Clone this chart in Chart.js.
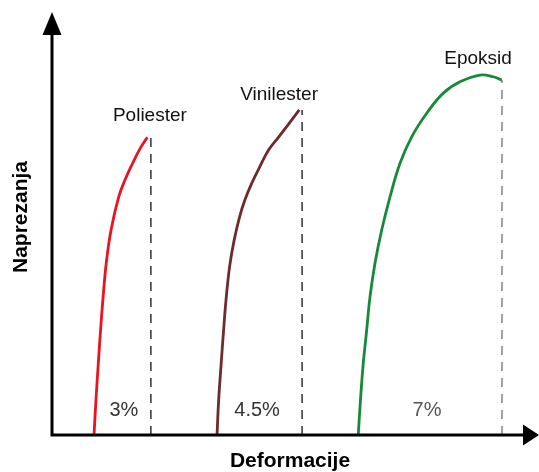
<!DOCTYPE html>
<html>
<head>
<meta charset="utf-8">
<script src="https://cdn.jsdelivr.net/npm/chart.js@4"></script>
<style>
html,body{margin:0;padding:0;background:#fff;}
#wrap{width:539px;height:472px;}
</style>
</head>
<body>
<div id="wrap"><canvas id="c" width="539" height="472"></canvas></div>
<script>
// Materials
const materials = ["Poliester", "Vinilester", "Epoksid"];
const strainLabels = ["3%", "4.5%", "7%"];
// Curves (deformation, stress) in arbitrary units
const poliesterX = [8.75, 9.2, 9.65, 10.12, 10.65, 11.3, 12.3, 13.9, 15.2, 16.8, 18.2, 19.85];
const poliesterY = [0, 9.1, 17.1, 25.0, 32.9, 40.9, 48.8, 56.7, 60.7, 64.7, 67.9, 70.9];
const vinilesterX = [34.38, 34.72, 35.2, 35.7, 36.25, 37.0, 37.95, 39.1, 40.2, 41.6, 43.3, 45.15, 47.25, 49.4, 51.52];
const vinilesterY = [0, 8.3, 16.3, 24.2, 32.1, 40.1, 46.4, 52.0, 56.0, 59.9, 63.9, 67.9, 71.0, 74.2, 77.4];
const epoksidX = [63.8, 64.31, 64.85, 65.56, 66.25, 67.29, 68.69, 70.42, 72.5, 74.94, 78.06, 81.52, 85.0, 89.17, 91.94, 93.69];
const epoksidY = [0, 9.1, 17.1, 25.0, 32.9, 40.9, 48.8, 56.7, 64.7, 71.0, 76.6, 81.4, 84.1, 85.7, 85.3, 84.5];
// Break (failure) deformation of each material, dashed line positions
const breakX = [20.6, 52.1, 93.75];
const breakY = [70.9, 77.4, 84.5];

const curveX = [poliesterX, vinilesterX, epoksidX];
const curveY = [poliesterY, vinilesterY, epoksidY];
const colors = ["#e8141f", "#6e2a2c", "#17893a"];
const dashColors = ["#222222", "#222222", "#777777"];

const pts = (xs, ys) => xs.map((x, i) => ({x, y: ys[i]}));

const datasets = [];
for (let i = 0; i < 3; i++) {
  datasets.push({
    label: materials[i],
    data: pts(curveX[i], curveY[i]),
    showLine: true,
    borderColor: colors[i],
    borderWidth: 2.8,
    pointRadius: 0,
    tension: 0.4,
    fill: false
  });
  datasets.push({
    label: materials[i] + " lom",
    data: [{x: breakX[i], y: 0}, {x: breakX[i], y: breakY[i]}],
    showLine: true,
    borderColor: dashColors[i],
    borderWidth: 1.4,
    borderDash: [9, 7],
    pointRadius: 0,
    fill: false
  });
}

// label placement (pixel offsets relative to break point)
const nameOffsets = [[-1, -16], [-23, -10], [-24, -16]];
const pctOffsets = [[-27, 0], [-45, 0], [-75, 0]];
const pctColors = ["#333333", "#333333", "#555555"];

const overlay = {
  id: "overlay",
  afterDatasetsDraw(chart) {
    const ctx = chart.ctx;
    const xs = chart.scales.x, ys = chart.scales.y;
    const x0 = xs.getPixelForValue(0), y0 = ys.getPixelForValue(0);
    ctx.save();
    // axes
    ctx.strokeStyle = "#000";
    ctx.lineWidth = 3;
    ctx.beginPath();
    ctx.moveTo(x0, y0 + 1.5);
    ctx.lineTo(x0, 30);
    ctx.moveTo(x0 - 1.5, y0);
    ctx.lineTo(527, y0);
    ctx.stroke();
    ctx.fillStyle = "#000";
    ctx.beginPath();
    ctx.moveTo(x0, 12);
    ctx.lineTo(x0 - 9.5, 35);
    ctx.lineTo(x0 + 9.5, 35);
    ctx.closePath();
    ctx.fill();
    ctx.beginPath();
    ctx.moveTo(539, y0);
    ctx.lineTo(523, y0 - 10.5);
    ctx.lineTo(523, y0 + 10.5);
    ctx.closePath();
    ctx.fill();
    // names and strain labels
    ctx.textAlign = "center";
    ctx.textBaseline = "alphabetic";
    for (let i = 0; i < 3; i++) {
      const bx = xs.getPixelForValue(breakX[i]);
      const by = ys.getPixelForValue(breakY[i]);
      ctx.fillStyle = "#111";
      ctx.font = "19px 'Liberation Sans', Arial, sans-serif";
      ctx.fillText(materials[i], bx + nameOffsets[i][0], by + nameOffsets[i][1]);
      ctx.fillStyle = pctColors[i];
      ctx.font = "20px 'Liberation Sans', Arial, sans-serif";
      ctx.fillText(strainLabels[i], bx + pctOffsets[i][0], y0 - 19);
    }
    // axis titles
    ctx.fillStyle = "#000";
    ctx.font = "bold 21px 'Liberation Sans', Arial, sans-serif";
    ctx.fillText("Deformacije", 290, 467);
    ctx.translate(27, 217);
    ctx.rotate(-Math.PI / 2);
    ctx.fillText("Naprezanja", 0, 0);
    ctx.restore();
  }
};

new Chart(document.getElementById("c"), {
  type: "scatter",
  data: {datasets},
  options: {
    responsive: false,
    animation: false,
    layout: {padding: {left: 52, right: 7, top: 15, bottom: 37}},
    plugins: {legend: {display: false}, tooltip: {enabled: false}},
    scales: {
      x: {type: "linear", min: 0, max: 100, display: false},
      y: {type: "linear", min: 0, max: 100, display: false}
    }
  },
  plugins: [overlay]
});
</script>
</body>
</html>
